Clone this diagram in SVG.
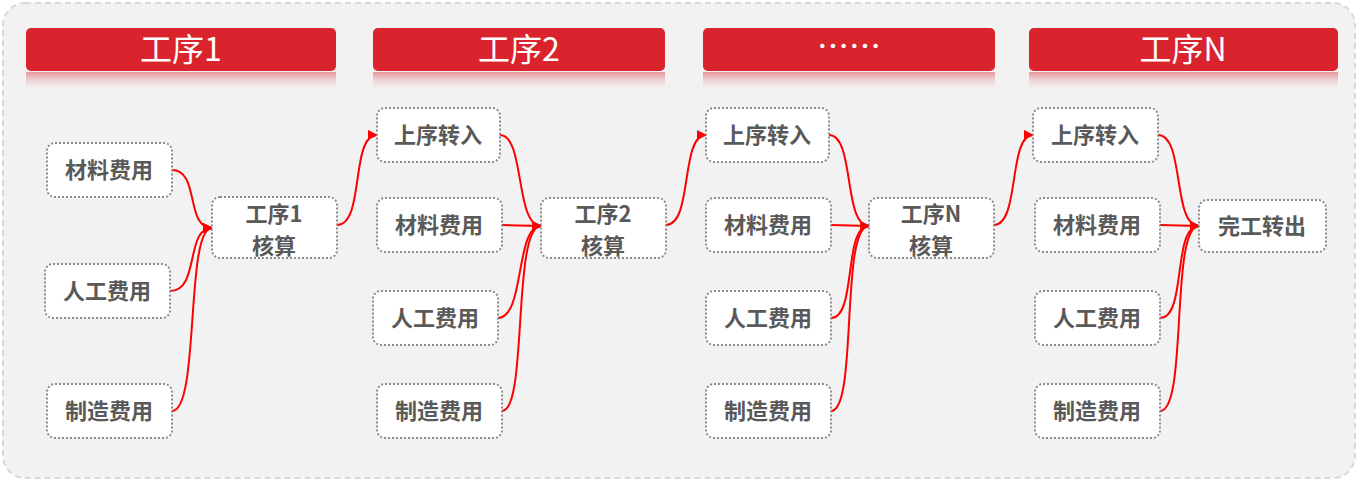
<svg xmlns="http://www.w3.org/2000/svg" width="1358" height="481" viewBox="0 0 1358 481">
<defs>
<style>
.n{fill:#fff;stroke:#8c8c8c;stroke-width:2;stroke-dasharray:2 2}
.t{font-family:"Noto Sans CJK SC","Liberation Sans",sans-serif;font-weight:bold;font-size:22px;fill:#595959;text-anchor:middle}
.h{fill:#d9232d}
.ht{font-family:"Noto Sans CJK SC","Liberation Sans",sans-serif;font-size:32px;fill:#fff;text-anchor:middle}
.c path{fill:none;stroke:#ff0000;stroke-width:2;marker-end:url(#a)}
</style>
<marker id="a" viewBox="0 0 10 10" refX="9" refY="5" markerWidth="5" markerHeight="5" orient="auto"><path d="M0,0L10,5L0,10z" fill="#ff0000"/></marker>
<linearGradient id="r" x1="0" y1="0" x2="0" y2="1"><stop offset="0" stop-color="#d9232d" stop-opacity="0.45"/><stop offset="1" stop-color="#f2f2f2" stop-opacity="0"/></linearGradient>
</defs>
<rect x="3" y="3" width="1352" height="475" rx="22" fill="#f2f2f2" stroke="#d9d9d9" stroke-width="2" stroke-dasharray="6 4"/>
<g id="headers">
<rect class="h" x="26" y="28" width="310" height="43" rx="5"/><rect x="26" y="72" width="310" height="20" fill="url(#r)"/><text class="ht" x="181" y="61">工序1</text>
<rect class="h" x="373" y="28" width="292" height="43" rx="5"/><rect x="373" y="72" width="292" height="20" fill="url(#r)"/><text class="ht" x="519" y="61">工序2</text>
<rect class="h" x="703" y="28" width="292" height="43" rx="5"/><rect x="703" y="72" width="292" height="20" fill="url(#r)"/><text class="ht" x="849" y="58">……</text>
<rect class="h" x="1029" y="28" width="309" height="43" rx="5"/><rect x="1029" y="72" width="309" height="20" fill="url(#r)"/><text class="ht" x="1183" y="61">工序N</text>
</g>
<g class="c">
<path d="M172,170 C200,170 185,228 212,228"/>
<path d="M170,291 C200,291 185,228 212,228"/>
<path d="M172,411 C200,411 185,228 212,228"/>
<path d="M337,225 C365,225 350,135 377,135"/>
<path d="M500,135 C525,135 515,226 541,226"/>
<path d="M502,225 L541,226"/>
<path d="M498,318 C525,318 515,226 541,226"/>
<path d="M502,411 C528,411 512,226 541,226"/>
<path d="M666,225 C693,225 680,135 706,135"/>
<path d="M829,135 C855,135 843,226 869,226"/>
<path d="M831,225 L869,226"/>
<path d="M831,318 C857,318 843,226 869,226"/>
<path d="M831,411 C858,411 840,226 869,226"/>
<path d="M994,225 C1020,225 1008,135 1033,135"/>
<path d="M1158,135 C1185,135 1172,226 1199,226"/>
<path d="M1160,225 L1199,226"/>
<path d="M1160,318 C1187,318 1172,226 1199,226"/>
<path d="M1160,411 C1188,411 1170,226 1199,226"/>
</g>
<g id="c1a"><rect class="n" x="47" y="143" width="125" height="54" rx="8"/><text class="t" x="109" y="178">材料费用</text></g>
<g id="c1b"><rect class="n" x="45" y="264" width="125" height="54" rx="8"/><text class="t" x="107" y="299">人工费用</text></g>
<g id="c1c"><rect class="n" x="47" y="384" width="125" height="54" rx="8"/><text class="t" x="109" y="419">制造费用</text></g>
<g id="s1"><rect class="n" x="212" y="197" width="125" height="61" rx="8"/><text class="t" x="274" y="222">工序1</text><text class="t" x="274" y="254">核算</text></g>
<g id="c2a"><rect class="n" x="377" y="108" width="123" height="54" rx="8"/><text class="t" x="438" y="143">上序转入</text></g>
<g id="c2b"><rect class="n" x="377" y="198" width="125" height="54" rx="8"/><text class="t" x="439" y="233">材料费用</text></g>
<g id="c2c"><rect class="n" x="373" y="291" width="125" height="54" rx="8"/><text class="t" x="435" y="326">人工费用</text></g>
<g id="c2d"><rect class="n" x="377" y="384" width="125" height="54" rx="8"/><text class="t" x="439" y="419">制造费用</text></g>
<g id="s2"><rect class="n" x="541" y="198" width="125" height="60" rx="8"/><text class="t" x="603" y="222">工序2</text><text class="t" x="603" y="254">核算</text></g>
<g id="c3a"><rect class="n" x="706" y="108" width="123" height="54" rx="8"/><text class="t" x="767" y="143">上序转入</text></g>
<g id="c3b"><rect class="n" x="706" y="198" width="125" height="54" rx="8"/><text class="t" x="768" y="233">材料费用</text></g>
<g id="c3c"><rect class="n" x="706" y="291" width="125" height="54" rx="8"/><text class="t" x="768" y="326">人工费用</text></g>
<g id="c3d"><rect class="n" x="706" y="384" width="125" height="54" rx="8"/><text class="t" x="768" y="419">制造费用</text></g>
<g id="s3"><rect class="n" x="869" y="198" width="125" height="60" rx="8"/><text class="t" x="931" y="222">工序N</text><text class="t" x="931" y="254">核算</text></g>
<g id="c4a"><rect class="n" x="1033" y="108" width="125" height="54" rx="8"/><text class="t" x="1095" y="143">上序转入</text></g>
<g id="c4b"><rect class="n" x="1035" y="198" width="125" height="54" rx="8"/><text class="t" x="1097" y="233">材料费用</text></g>
<g id="c4c"><rect class="n" x="1035" y="291" width="125" height="54" rx="8"/><text class="t" x="1097" y="326">人工费用</text></g>
<g id="c4d"><rect class="n" x="1035" y="384" width="125" height="54" rx="8"/><text class="t" x="1097" y="419">制造费用</text></g>
<g id="out"><rect class="n" x="1199" y="200" width="127" height="52" rx="8"/><text class="t" x="1262" y="234">完工转出</text></g>
</svg>
